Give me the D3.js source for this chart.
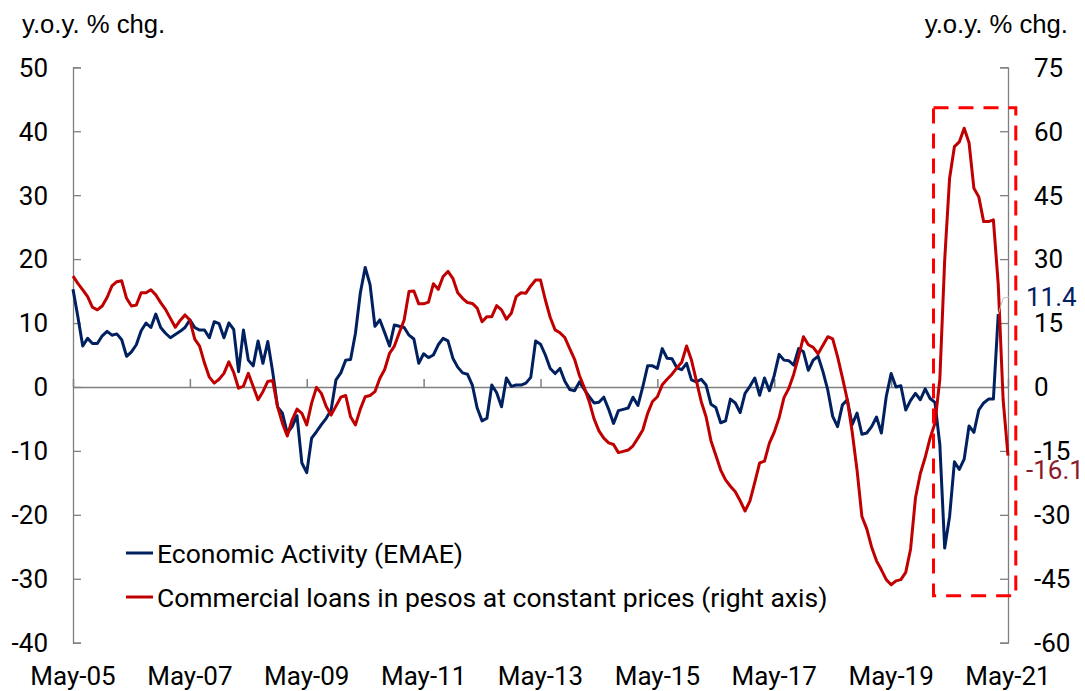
<!DOCTYPE html>
<html lang="en">
<head>
  <meta charset="UTF-8">
  <title>EMAE and commercial loans</title>
  <style>
    body { margin: 0; background: #fff; }
    svg { display: block; }
    .tick-label { font-family: Roboto, sans-serif; font-size: 26px; fill: #000; }
    .unit { font-family: "Liberation Sans", Arial, sans-serif; font-size: 25.7px; fill: #000; }
    .legend text { font-family: Roboto, sans-serif; font-size: 26.5px; fill: #000; }
    .line { fill: none; stroke-width: 3px; stroke-linejoin: round; }
  </style>
</head>
<body>
<div id="chart"></div>
<script src="https://cdn.jsdelivr.net/npm/d3@7/dist/d3.min.js"></script>
<script>
  // monthly series, starting May-05
  const xTickLabels = ["May-05", "May-07", "May-09", "May-11", "May-13", "May-15", "May-17", "May-19", "May-21"];
  const leftTicks = [50, 40, 30, 20, 10, 0, -10, -20, -30, -40];
  const rightTicks = [75, 60, 45, 30, 15, 0, -15, -30, -45, -60];

  // Economic Activity (EMAE), y.o.y. % chg., May-05 .. Mar-21
  const emae = [
    15.3, 11.0, 6.4, 7.6, 6.8, 6.8, 8.0, 8.7, 8.1, 8.3, 7.4, 4.8,
    5.5, 6.6, 8.8, 10.0, 9.3, 11.4, 9.3, 8.4, 7.7, 8.2, 8.7, 9.3,
    10.5, 9.3, 8.9, 8.9, 7.7, 10.2, 9.9, 7.7, 10.0, 9.0, 2.4, 8.9,
    4.2, 3.3, 7.2, 3.7, 7.1, 2.4, -3.1, -4.1, -7.2, -6.2, -4.5, -11.9,
    -13.4, -8.0, -7.0, -5.9, -4.9, -3.6, 1.1, 2.2, 4.2, 4.3, 8.4, 14.7,
    18.7, 16.0, 9.5, 10.5, 8.5, 6.4, 9.7, 9.5, 9.3, 8.1, 7.5, 3.7,
    5.2, 4.6, 5.0, 6.6, 7.6, 7.2, 4.5, 3.1, 2.2, 2.0, 0.3, -3.3,
    -5.3, -4.9, 0.3, -0.9, -3.1, 1.4, 0.1, 0.3, 0.3, 0.6, 1.5, 7.2,
    6.7, 5.0, 2.9, 2.1, 2.9, 0.9, -0.4, -0.6, 0.8, -0.4, -1.5, -2.5,
    -2.4, -1.6, -3.5, -5.7, -3.7, -3.5, -3.3, -1.6, -2.9, 0.0, 3.3, 3.3,
    2.9, 6.0, 4.5, 4.4, 3.0, 2.7, 3.7, 1.1, 0.8, 1.2, 0.3, -2.7,
    -3.2, -5.6, -5.3, -1.9, -2.5, -4.0, -1.0, 0.1, 1.4, -1.3, 1.4, -0.6,
    1.8, 5.1, 4.2, 4.1, 3.4, 6.0, 5.5, 2.6, 4.2, 4.8, 2.4, -0.5,
    -4.6, -6.2, -2.8, -2.0, -5.9, -4.1, -7.4, -7.2, -6.2, -4.7, -7.2, -1.5,
    2.1, 0.0, 0.2, -3.6, -2.1, -1.0, -2.0, -0.3, -1.8, -2.4, -9.0, -25.2,
    -20.3, -11.7, -12.9, -11.3, -6.1, -7.1, -3.6, -2.5, -1.9, -1.9, 11.4
  ];

  // Commercial loans in pesos at constant prices, y.o.y. % chg. (right axis), May-05 .. May-21
  const loans = [
    26.0, 24.3, 22.8, 21.2, 18.7, 18.1, 19.0, 21.0, 23.7, 24.7, 24.9, 20.8,
    19.0, 19.2, 22.1, 22.1, 22.8, 21.6, 19.8, 18.2, 16.1, 14.0, 15.6, 16.9,
    15.7, 11.2, 9.6, 5.6, 2.3, 0.9, 1.8, 3.2, 5.9, 3.4, -0.3, 0.2,
    3.2, 0.1, -3.0, -1.1, 1.3, 1.5, -4.6, -8.5, -11.5, -7.7, -5.2, -6.2,
    -8.9, -3.8, -0.1, -1.5, -4.6, -6.6, -4.5, -2.4, -2.0, -7.0, -8.9, -5.2,
    -2.3, -2.0, -1.1, 2.0, 4.1, 7.9, 9.6, 12.7, 15.7, 22.4, 22.5, 19.5,
    19.5, 19.9, 24.2, 22.9, 25.9, 27.1, 25.5, 22.1, 20.8, 19.8, 19.6, 18.5,
    15.3, 16.5, 16.5, 19.1, 18.1, 15.9, 17.3, 21.2, 22.1, 22.0, 23.7, 25.1,
    25.1, 20.4, 16.3, 13.4, 12.7, 11.6, 9.0, 6.5, 2.7, -0.2, -3.4, -7.5,
    -10.3, -12.0, -13.1, -13.5, -15.4, -15.1, -14.8, -13.8, -12.0, -10.1, -6.2, -3.4,
    -2.3, 0.5, 1.8, 3.0, 4.5, 5.8, 9.6, 6.3, 1.5, -3.4, -7.0, -12.6,
    -16.0, -19.5, -21.8, -23.3, -24.6, -26.7, -29.1, -26.8, -22.4, -17.8, -17.4, -13.2,
    -10.6, -7.2, -2.5, -0.3, 3.0, 7.1, 11.8, 9.9, 9.3, 7.8, 9.8, 11.8,
    11.3, 7.1, 2.2, -3.0, -10.5, -19.5, -30.4, -33.3, -37.6, -40.8, -42.9, -45.2,
    -46.4, -45.5, -45.2, -43.5, -38.0, -26.0, -20.3, -16.5, -12.0, -8.5, 1.8, 29.8,
    48.9, 56.4, 57.5, 60.7, 57.3, 46.6, 44.6, 38.8, 38.8, 39.2, 24.0, -3.0,
    -16.1
  ];

  const W = 1085, H = 691;
  const plot = { left: 73, right: 1008, top: 67.3, bottom: 642.7 };

  const svg = d3.select("#chart").append("svg")
    .attr("width", W)
    .attr("height", H);

  // month index scale (0 = May-05, 192 = May-21)
  const x = d3.scaleLinear().domain([0, 192]).range([plot.left, plot.right]);
  const yL = d3.scaleLinear().domain([-40, 50]).range([plot.bottom, plot.top]);
  const yR = d3.scaleLinear().domain([-60, 75]).range([plot.bottom, plot.top]);

  const axisColor = "#7f7f7f";

  // left axis
  const gl = svg.append("g")
    .attr("transform", `translate(${plot.left},0)`)
    .call(d3.axisRight(yL).tickValues(leftTicks).tickSize(8).tickFormat(""));
  gl.selectAll("path, line").attr("stroke", axisColor).attr("stroke-width", 1.3);
  svg.append("g").selectAll("text")
    .data(leftTicks)
    .enter().append("text")
    .attr("class", "tick-label")
    .attr("x", 48)
    .attr("y", d => yL(d))
    .attr("dy", "0.36em")
    .attr("text-anchor", "end")
    .text(d => d);

  // right axis
  const gr = svg.append("g")
    .attr("transform", `translate(${plot.right},0)`)
    .call(d3.axisLeft(yR).tickValues(rightTicks).tickSize(8).tickFormat(""));
  gr.selectAll("path, line").attr("stroke", axisColor).attr("stroke-width", 1.3);
  svg.append("g").selectAll("text")
    .data(rightTicks)
    .enter().append("text")
    .attr("class", "tick-label")
    .attr("x", 1034)
    .attr("y", d => yR(d))
    .attr("dy", "0.36em")
    .attr("text-anchor", "start")
    .text(d => d);

  // x axis on the zero line, labels at the bottom
  const xTickVals = xTickLabels.map((d, i) => i * 24);
  const gx = svg.append("g")
    .attr("transform", `translate(0,${yL(0)})`)
    .call(d3.axisTop(x).tickValues(xTickVals).tickSize(8).tickFormat("").tickSizeOuter(0));
  gx.selectAll("path, line").attr("stroke", axisColor).attr("stroke-width", 1.5);
  svg.append("g").selectAll("text")
    .data(xTickLabels)
    .enter().append("text")
    .attr("class", "tick-label")
    .attr("x", (d, i) => x(xTickVals[i]))
    .attr("y", 685)
    .attr("text-anchor", "middle")
    .text(d => d);

  // unit labels
  svg.append("text").attr("class", "unit").attr("x", 22).attr("y", 33).text("y.o.y. % chg.");
  svg.append("text").attr("class", "unit").attr("x", 1068).attr("y", 33)
    .attr("text-anchor", "end").text("y.o.y. % chg.");

  // lines
  const lineL = d3.line().x((d, i) => x(i)).y(d => yL(d));
  const lineR = d3.line().x((d, i) => x(i)).y(d => yR(d));

  svg.append("path")
    .datum(emae)
    .attr("class", "line")
    .attr("stroke", "#002060")
    .attr("d", lineL);

  svg.append("path")
    .datum(loans)
    .attr("class", "line")
    .attr("stroke", "#c00000")
    .attr("d", lineR);

  // highlight box (pandemic period)
  svg.append("rect")
    .attr("x", x(176.7))
    .attr("y", yR(65.5))
    .attr("width", x(193.6) - x(176.7))
    .attr("height", yR(-49) - yR(65.5))
    .attr("fill", "none")
    .attr("stroke", "#ff0000")
    .attr("stroke-width", 3)
    .attr("stroke-dasharray", "15,10");

  // last value labels
  const lastE = emae.length - 1;
  const lastL = loans.length - 1;
  svg.append("path")
    .attr("d", `M${x(lastE)},${yL(emae[lastE])} L${x(lastE) + 5},${yL(emae[lastE]) - 16} L${x(lastE) + 11},${yL(emae[lastE]) - 17}`)
    .attr("fill", "none")
    .attr("stroke", "#bfbfbf")
    .attr("stroke-width", 1);
  svg.append("text")
    .attr("class", "tick-label")
    .attr("x", 1026)
    .attr("y", yL(emae[lastE]) - 17)
    .attr("dy", "0.36em")
    .style("fill", "#002060")
    .text(emae[lastE].toFixed(1));
  svg.append("text")
    .attr("class", "tick-label")
    .attr("x", 1026)
    .attr("y", yR(loans[lastL]) + 14)
    .attr("dy", "0.36em")
    .style("fill", "#8b1a2b")
    .text(loans[lastL].toFixed(1));

  // legend
  const series = [
    { name: "Economic Activity (EMAE)", color: "#002060" },
    { name: "Commercial loans in pesos at constant prices (right axis)", color: "#c00000" }
  ];
  const legend = svg.append("g").attr("class", "legend");
  series.forEach((s, i) => {
    const item = legend.append("g").attr("transform", `translate(126, ${553 + i * 44})`);
    item.append("line")
      .attr("x1", 0).attr("x2", 27)
      .attr("y1", 0).attr("y2", 0)
      .attr("stroke", s.color)
      .attr("stroke-width", 3);
    item.append("text")
      .attr("x", 31)
      .attr("y", 0)
      .attr("dy", "0.36em")
      .text(s.name);
  });
</script>
</body>
</html>
